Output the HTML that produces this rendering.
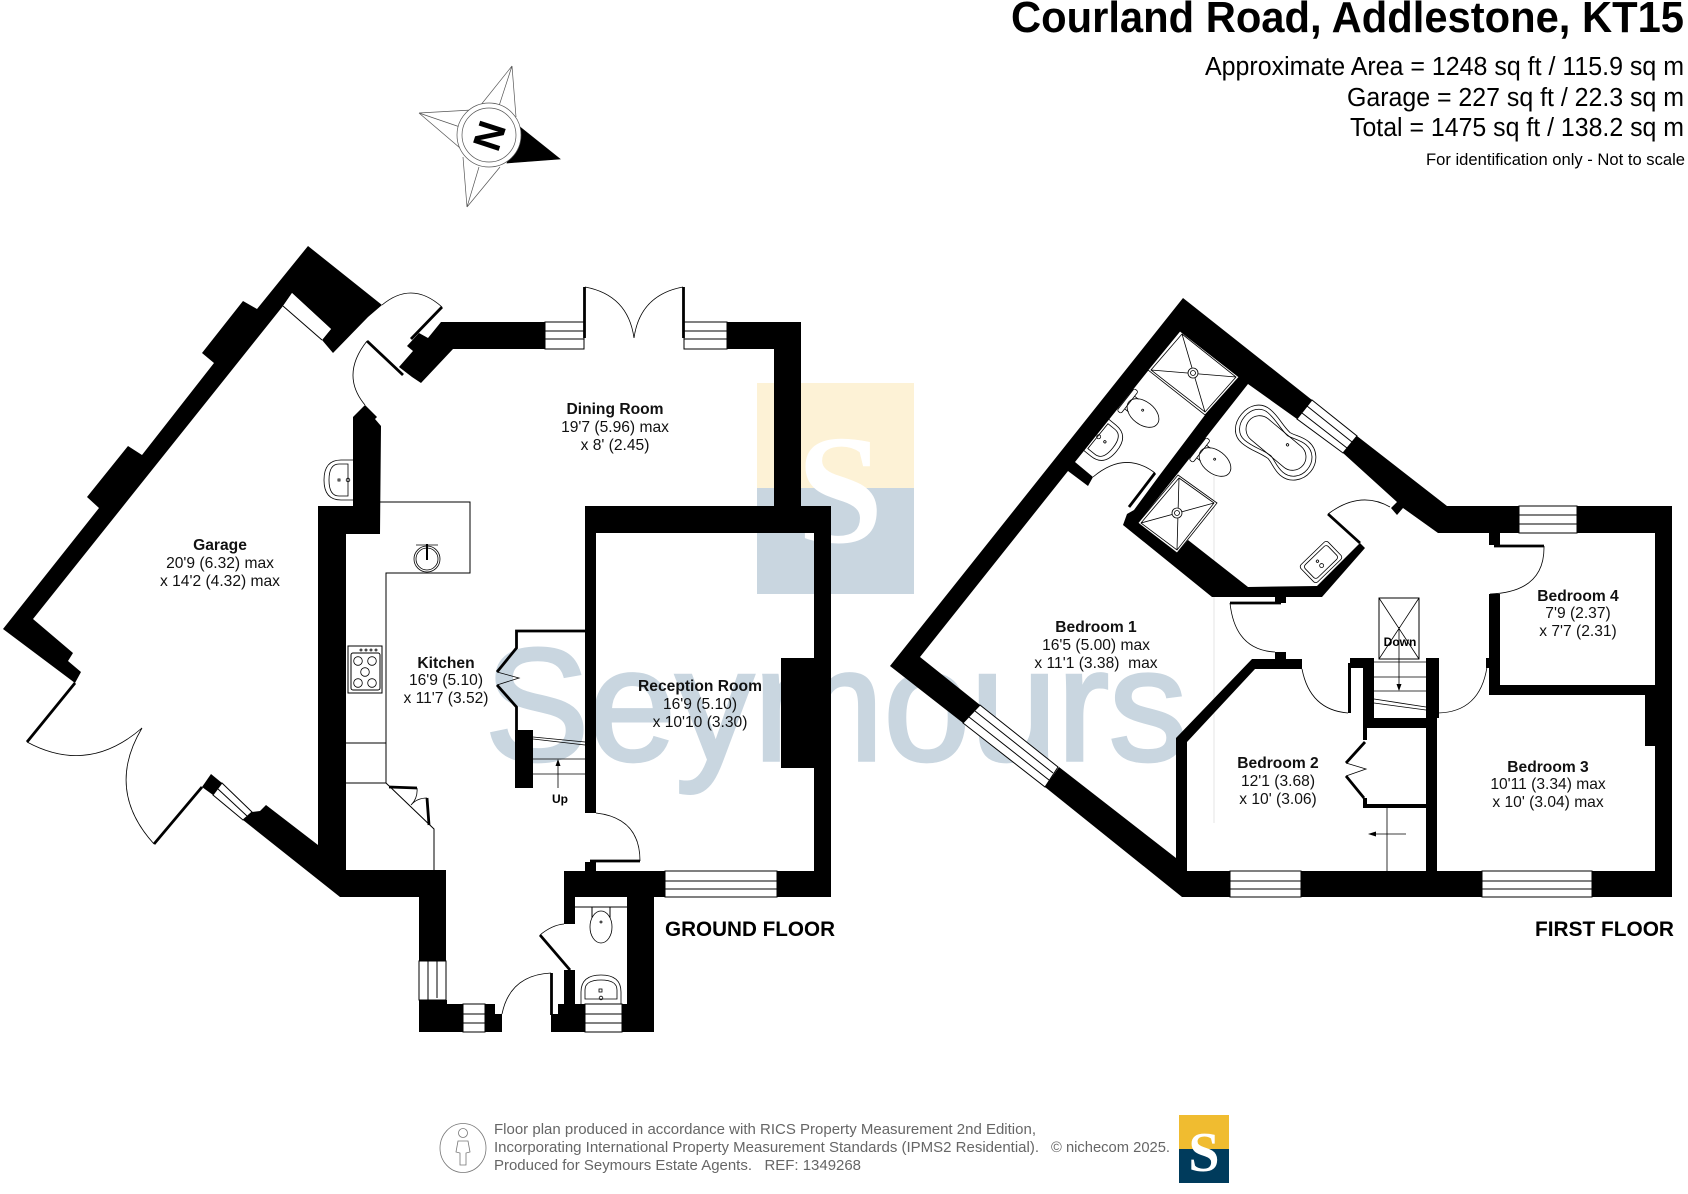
<!DOCTYPE html>
<html><head><meta charset="utf-8"><style>
html,body{margin:0;padding:0;background:#fff}
svg{display:block}
text{font-family:"Liberation Sans",sans-serif}
.l{font-size:15.6px;text-anchor:middle;fill:#111}
.b{font-weight:bold}
.t{fill:none;stroke:#000;stroke-width:1}
.s{fill:none;stroke:#000;stroke-width:.8}
.h{fill:none;stroke:#000;stroke-width:2.8}
.w{fill:#fff;stroke:#000;stroke-width:1}
.f{font-size:14.6px;fill:#666}
</style></head><body>
<svg width="1688" height="1194" viewBox="0 0 1688 1194" xmlns="http://www.w3.org/2000/svg">
<rect width="1688" height="1194" fill="#fff"/>
<!-- watermark -->
<rect x="757" y="383" width="157" height="105" fill="#fdf2d6"/>
<rect x="757" y="488" width="157" height="106" fill="#c9d6e0"/>
<text x="840" y="542" font-size="156" font-weight="bold" text-anchor="middle" fill="#fff" style="font-family:'Liberation Serif',serif">S</text>
<text x="485" y="760" font-size="160" fill="#c9d6e0" stroke="#c9d6e0" stroke-width="3.5" textLength="702" lengthAdjust="spacingAndGlyphs">Seymours</text>
<line x1="1214" y1="476" x2="1214" y2="823" stroke="#e6e6e6"/>

<!-- header -->
<text x="1684" y="32" font-size="44" font-weight="bold" text-anchor="end" textLength="673" lengthAdjust="spacingAndGlyphs">Courland Road, Addlestone, KT15</text>
<text x="1684" y="75" font-size="25.5" text-anchor="end" textLength="479" lengthAdjust="spacingAndGlyphs">Approximate Area = 1248 sq ft / 115.9 sq m</text>
<text x="1684" y="106" font-size="25.5" text-anchor="end" textLength="337" lengthAdjust="spacingAndGlyphs">Garage = 227 sq ft / 22.3 sq m</text>
<text x="1684" y="136" font-size="25.5" text-anchor="end" textLength="334" lengthAdjust="spacingAndGlyphs">Total = 1475 sq ft / 138.2 sq m</text>
<text x="1685" y="165" font-size="17" text-anchor="end" textLength="259" lengthAdjust="spacingAndGlyphs">For identification only - Not to scale</text>

<!-- compass -->
<g fill="#fff" stroke="#555" stroke-width=".7">
<path d="M512 66L480 106M512 66L499 106M512 66L516 117M419 113L472 110M419 113L460 127M419 113L460 148M467 207L463 157M467 207L479 167M467 207L500 167"/>
<polygon points="520,127 560,159 507,163" fill="#000" stroke="#000"/>
<circle cx="489" cy="135" r="32"/><circle cx="489" cy="135" r="27"/>
</g>
<text x="0" y="0" font-size="39" font-weight="bold" text-anchor="middle" transform="translate(490,136) rotate(108) translate(0,14)">N</text>

<!-- ground floor walls -->
<g fill="#000">
<polygon points="308,246 382,305 368,317 333,353 322,340 331,329 292,293 283,306 33,619 73,653 68,661 81,672 75,683 3,629 99,508 87,497 128,446 142,455 214,363 202,353 243,301 257,309"/>
<polygon points="353,417 365,405 377,417 375,419 381,426 380,534 346,534 346,870 446,870 446,961 419,961 419,897 340,897 243,820 252,812 260,811 266,805 318,845 318,506 353,506"/>
<polygon points="211,774 222,783 213,795 202,787"/>
<polygon points="419,1000 447,1000 447,1004 463,1004 463,1032 419,1032"/>
<polygon points="485,1004 495,1004 495,1014 502,1014 502,1032 485,1032"/>
<polygon points="551,1014 558,1014 558,1004 564,1004 564,970 575,970 575,1004 585,1004 585,1032 551,1032"/>
<polygon points="622,1004 627,1004 627,897 575,897 575,924 564,924 564,871 585,871 585,862 596,862 596,871 665,871 665,897 654,897 654,1032 622,1032"/>
<polygon points="777,871 814,871 814,533 596,533 596,813 585,813 585,506 774,506 774,349 727,349 727,322 801,322 801,506 831,506 831,897 777,897"/>
<polygon points="441,322 545,322 545,349 453,349 421,383 412,377 399,367 413,351 407,346 419,333 428,338"/>
<rect x="781" y="658" width="33" height="110"/>
<rect x="515" y="730" width="18" height="58"/>
</g>
<!-- ground floor windows -->
<g class="w">
<rect class="w" x="545" y="322" width="39" height="27"/><path class="t" d="M545 331H584M545 339H584"/>
<rect class="w" x="684" y="322" width="43" height="27"/><path class="t" d="M684 331H727M684 339H727"/>
<rect class="w" x="665" y="871" width="112" height="26"/><path class="t" d="M665 881H777M665 889H777"/>
<rect class="w" x="585" y="1004" width="37" height="28"/><path class="t" d="M585 1014H622M585 1023H622"/>
<rect class="w" x="463" y="1004" width="22" height="28"/><path class="t" d="M463 1014H485M463 1023H485"/>
<rect class="w" x="419" y="961" width="27" height="39"/><path class="t" d="M428 961V1000M437 961V998"/>
<polygon class="w" points="222,783 252,812 243,820 213,795"/><path class="t" d="M218 789L247 816"/>
<polygon points="292,293 331,329 322,340 283,306" fill="#fff" stroke="none"/><path class="t" d="M283 306L322 340"/>
</g>
<!-- ground floor doors -->
<path class="h" d="M75 683L27 742M154 844L202 787M367 341L403 375M442 307L411 339M584.5 287V338M683.5 287V338M590 861H640M551.5 973V1015M540 935L570 970M389 787L417 788M427 798L429 825"/>
<path class="s" d="M27 742Q88 775 142 728Q105 790 154 844M382 305Q412 280 442 307M367 341Q340 375 365 405M585 287Q628 295 634 338Q640 295 683 287M596 813Q640 818 640 861M502 1014Q510 975 551 973M540 935Q552 925 564 924M417 788Q418 798 411 805Q417 798 427 798"/>
<!-- kitchen fittings -->
<path class="t" d="M380 502H470V573H386V783H346M386 743H346M386 783L434 829V870"/>
<rect class="t" x="348" y="646" width="34" height="47"/>
<rect class="t" x="351" y="653" width="29" height="37" rx="2"/>
<g class="s"><circle cx="358" cy="661" r="4.3"/><circle cx="372" cy="661" r="4.3"/><circle cx="365" cy="672" r="4.3"/><circle cx="358" cy="683" r="4.3"/><circle cx="372" cy="683" r="4.3"/>
<circle cx="361" cy="650" r="1"/><circle cx="366" cy="650" r="1"/><circle cx="371" cy="650" r="1"/><circle cx="376" cy="650" r="1"/></g>
<circle class="s" cx="427" cy="559" r="13"/><circle class="s" cx="427" cy="559" r="11"/>
<path d="M427 544V560" stroke="#000" stroke-width="2"/><path class="s" d="M416 545H438"/>
<!-- stairs ground -->
<path class="h" d="M586 631H516.5V648L497 672M497 685L516.5 707V730"/>
<path class="s" d="M497 672L519 678L497 685M533 737L585 742M533 739L585 745M533 759H585M533 774H585M558 788V762"/>
<polygon points="558,759 555.5,766 560.5,766"/>
<text x="560" y="803" font-size="12" font-weight="bold" text-anchor="middle">Up</text>
<!-- WC ground -->
<path class="t" d="M575 907H627M592 907V920M610 907V920"/>
<ellipse class="w" cx="601" cy="927" rx="11" ry="16" style="stroke-width:.8"/>
<circle class="s" cx="601" cy="922" r="1"/>
<g class="s" transform="translate(601,1004)"><path d="M-20 0V-12Q-20 -29 0 -29Q20 -29 20 -12V0"/><path d="M-16 -5V-14Q-16 -24 0 -24Q16 -24 16 -14V-5Z"/><rect x="-2" y="-15" width="3" height="3"/><circle cx="0" cy="-6" r="1.8"/></g>
<g class="s" transform="translate(353,480) rotate(-90)"><path d="M-20 0V-12Q-20 -29 0 -29Q20 -29 20 -12V0"/><path d="M-16 -5V-14Q-16 -24 0 -24Q16 -24 16 -14V-5Z"/><rect x="-1" y="-15" width="2" height="2"/><circle cx="0" cy="-5" r="1.8"/></g>

<!-- first floor walls -->
<g fill="#000">
<polygon points="1183,298 1312,400 1297,419 1248,384 1178,473 1138,523 1177,553 1188,540 1248,587 1317,586 1360,543 1365,548 1322,597 1212,597 1123,525 1127,514 1134,510 1159,476 1205,415 1239,377 1180,331 1075,462 1093,477 1088,486 1068,471 920,657 980,705 963,723 890,666"/>
<polygon points="1357,436 1447,506 1672,506 1672,897 1182,897 1045,787 1059,767 1176,858 1176,738 1252,659 1275,659 1275,652 1286,652 1286,659 1302,659 1302,669 1255,669 1187,742 1187,871 1655,871 1655,533 1500,533 1500,545 1489,545 1489,533 1438,533 1403,508 1397,515 1391,508 1397,502 1343,453"/>
<rect x="1489" y="594" width="11" height="101"/><rect x="1486" y="658" width="3" height="10"/>
<rect x="1489" y="685" width="166" height="10"/><rect x="1645" y="695" width="10" height="51"/>
<rect x="1426" y="658" width="13" height="60"/><rect x="1426" y="718" width="11" height="153"/>
<rect x="1363" y="658" width="11" height="70"/><rect x="1350" y="658" width="13" height="10"/><rect x="1348" y="663" width="3" height="50"/>
<rect x="1363" y="718" width="63" height="10"/><rect x="1363" y="728" width="4" height="12"/><rect x="1363" y="798" width="4" height="10"/><rect x="1363" y="804" width="63" height="4"/>
<rect x="1275" y="597" width="11" height="6"/>
</g>
<!-- first floor windows -->
<rect class="w" x="1230" y="871" width="71" height="26"/><path class="t" d="M1230 881H1301M1230 889H1301"/>
<rect class="w" x="1482" y="871" width="110" height="26"/><path class="t" d="M1482 881H1592M1482 889H1592"/>
<rect class="w" x="1519" y="506" width="58" height="27"/><path class="t" d="M1519 515H1577M1519 524H1577"/>
<polygon class="w" points="1312,400 1357,436 1343,453 1297,419"/><path class="t" d="M1307 406L1352 442M1302 413L1347 448"/>
<polygon class="w" points="980,705 1058,767 1045,787 963,723"/><path class="t" d="M975 711L1053 773M969 717L1049 780"/>
<!-- showers -->
<polygon class="w" points="1180,331 1239,377 1205,415 1148,370" style="stroke-width:.8"/>
<path class="s" d="M1182 334L1236 377L1205 412L1151 370ZM1182 334L1205 412M1151 370L1236 377"/><circle class="w" cx="1193" cy="373" r="5" style="stroke-width:.8"/><circle class="s" cx="1193" cy="373" r="2.5"/>
<polygon class="w" points="1178,475 1217,503 1177,553 1138,523" style="stroke-width:.8"/>
<path class="s" d="M1179 478L1214 503L1177 550L1141 523ZM1179 478L1177 550M1141 523L1214 503"/><circle class="w" cx="1177" cy="513" r="5" style="stroke-width:.8"/><circle class="s" cx="1177" cy="513" r="2.5"/>
<!-- bath -->
<g class="s" transform="translate(1276,443) rotate(40)">
<path d="M-26 -22C-14 -22 -8 -18 4 -17C10 -18 16 -22 24 -22C36 -22 45 -12 45 0C45 12 36 22 24 22C16 22 10 18 4 17C-8 18 -14 22 -26 22C-38 22 -45 12 -45 0C-45 -12 -38 -22 -26 -22Z"/>
<path d="M-26 -18C-14 -18 -8 -14 4 -13C10 -14 16 -18 24 -18C34 -18 41 -10 41 0C41 10 34 18 24 18C16 18 10 14 4 13C-8 14 -14 18 -26 18C-35 18 -41 10 -41 0C-41 -10 -35 -18 -26 -18Z"/>
<rect x="-35" y="-13.5" width="70" height="27" rx="13.5"/><circle cx="10" cy="-6" r="1.2"/></g>
<!-- toilets ensuite -->
<g class="s" transform="translate(1143,413) rotate(38)"><rect x="-22" y="-14" width="5" height="28" rx="2" fill="#fff"/><path d="M-17 -8H-12M-17 8H-12"/><ellipse cx="0" cy="0" rx="18" ry="11.5"/><circle cx="-2" cy="-2" r="1"/></g>
<g class="s" transform="translate(1215,462) rotate(38)"><rect x="-22" y="-14" width="5" height="28" rx="2" fill="#fff"/><path d="M-17 -8H-12M-17 8H-12"/><ellipse cx="0" cy="0" rx="18" ry="11.5"/><circle cx="-2" cy="-2" r="1"/></g>
<g class="s" transform="translate(1094,433) rotate(129)"><path d="M-20 0V-12Q-20 -29 0 -29Q20 -29 20 -12V0"/><path d="M-16 -5V-14Q-16 -24 0 -24Q16 -24 16 -14V-5Z"/><circle cx="0" cy="-14" r="1.2"/><circle cx="0" cy="-6" r="2"/></g>
<g class="s" transform="translate(1321,562) rotate(-44)"><rect x="-19" y="-12" width="38" height="24" rx="3"/><rect x="-16" y="-9" width="32" height="18" rx="3"/><circle cx="-2" cy="-3" r="1.2"/><circle cx="-2" cy="3" r="2"/></g>
<!-- first floor doors -->
<path class="h" d="M1155 473L1129 507M1328 514L1360 543M1230 603H1281M1494 546H1544M1346 763L1365 742M1346 776L1364 798"/>
<path class="s" d="M1155 473Q1125 450 1093 477M1328 514Q1360 490 1390 507M1230 603Q1235 650 1275 652M1544 546Q1545 592 1490 594M1302 669Q1310 710 1348 713M1487 667Q1480 712 1438 713M1346 763L1366 769L1346 776"/>
<!-- first floor stairs / hatch -->
<rect class="t" x="1379" y="598" width="40" height="61"/><path class="s" d="M1379 598L1419 659M1419 598L1379 659M1374 662H1426M1374 677H1426M1374 691H1426M1374 699L1426 707M1374 703L1426 710M1399 627V690"/>
<polygon points="1399,691 1396.5,684 1401.5,684"/>
<text x="1400" y="646" font-size="12" font-weight="bold" text-anchor="middle">Down</text>
<path class="s" d="M1387 808V871M1406 834H1374"/>
<polygon points="1368,834 1376,831.5 1376,836.5"/>

<!-- labels -->
<g class="l">
<text class="l b" x="220" y="550">Garage</text><text class="l" x="220" y="568">20'9 (6.32) max</text><text class="l" x="220" y="586">x 14'2 (4.32) max</text>
<text class="l b" x="615" y="414">Dining Room</text><text class="l" x="615" y="432">19'7 (5.96) max</text><text class="l" x="615" y="450">x 8' (2.45)</text>
<text class="l b" x="446" y="668">Kitchen</text><text class="l" x="446" y="685">16'9 (5.10)</text><text class="l" x="446" y="703">x 11'7 (3.52)</text>
<text class="l b" x="700" y="691">Reception Room</text><text class="l" x="700" y="709">16'9 (5.10)</text><text class="l" x="700" y="727">x 10'10 (3.30)</text>
<text class="l b" x="1096" y="632">Bedroom 1</text><text class="l" x="1096" y="650">16'5 (5.00) max</text><text class="l" x="1096" y="668" xml:space="preserve">x 11'1 (3.38)  max</text>
<text class="l b" x="1278" y="768">Bedroom 2</text><text class="l" x="1278" y="786">12'1 (3.68)</text><text class="l" x="1278" y="804">x 10' (3.06)</text>
<text class="l b" x="1548" y="772">Bedroom 3</text><text class="l" x="1548" y="789">10'11 (3.34) max</text><text class="l" x="1548" y="807">x 10' (3.04) max</text>
<text class="l b" x="1578" y="601">Bedroom 4</text><text class="l" x="1578" y="618">7'9 (2.37)</text><text class="l" x="1578" y="636">x 7'7 (2.31)</text>
</g>
<text x="665" y="936" font-size="21" font-weight="bold" textLength="170" lengthAdjust="spacingAndGlyphs">GROUND FLOOR</text>
<text x="1535" y="936" font-size="21" font-weight="bold" textLength="139" lengthAdjust="spacingAndGlyphs">FIRST FLOOR</text>

<!-- footer -->
<ellipse cx="463" cy="1148" rx="23" ry="24.5" fill="none" stroke="#777" stroke-width=".8"/>
<circle cx="463" cy="1133" r="4.5" fill="none" stroke="#777" stroke-width=".8"/>
<path d="M458 1141H468L470 1152L466 1153V1165H460V1153L456 1152Z" fill="none" stroke="#777" stroke-width=".8"/>
<text class="f" x="494" y="1134" textLength="542" lengthAdjust="spacingAndGlyphs">Floor plan produced in accordance with RICS Property Measurement 2nd Edition,</text>
<text class="f" x="494" y="1152" textLength="545" lengthAdjust="spacingAndGlyphs">Incorporating International Property Measurement Standards (IPMS2 Residential).</text>
<text class="f" x="1051" y="1152" textLength="119" lengthAdjust="spacingAndGlyphs">© nichecom 2025.</text>
<text class="f" x="494" y="1170" textLength="367" lengthAdjust="spacingAndGlyphs" xml:space="preserve">Produced for Seymours Estate Agents.   REF: 1349268</text>
<rect x="1179" y="1115" width="50" height="34" fill="#f0bc30"/>
<rect x="1179" y="1149" width="50" height="34" fill="#003b5c"/>
<text x="1204" y="1171" font-size="56" font-weight="bold" text-anchor="middle" fill="#fff" style="font-family:'Liberation Serif',serif">S</text>
</svg>
</body></html>
